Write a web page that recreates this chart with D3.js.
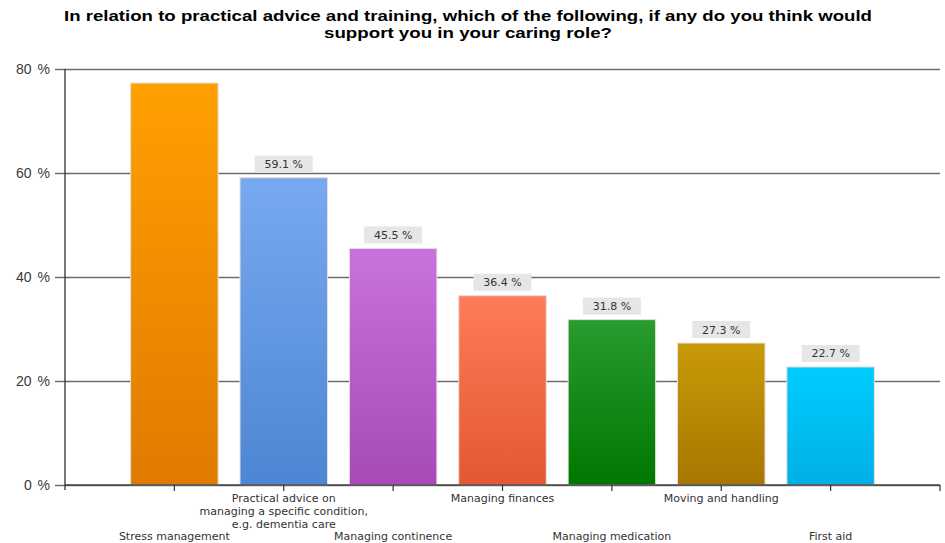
<!DOCTYPE html>
<html>
<head>
<meta charset="utf-8">
<script src="https://cdn.jsdelivr.net/npm/d3@7/dist/d3.min.js"></script>
<style>
  html, body { margin: 0; padding: 0; background: #fff; }
  svg { display: block; }
</style>
</head>
<body>
<svg id="chart" width="945" height="543"></svg>
<script>
// Survey responses: share of carers naming each kind of practical support
const categories = [
  "Stress management",
  "Practical advice on\nmanaging a specific condition,\ne.g. dementia care",
  "Managing continence",
  "Managing finances",
  "Managing medication",
  "Moving and handling",
  "First aid"
];
const values = [77.3, 59.1, 45.5, 36.4, 31.8, 27.3, 22.7];
const yTicks = [0, 20, 40, 60, 80];
const colorTop = ["#ffa000", "#78a9f0", "#c972de", "#ff7b58", "#299b2f", "#c99a08", "#00ccff"];
const colorBottom = ["#e07a00", "#4d86d3", "#a74ab6", "#e35830", "#007700", "#a87600", "#00afe5"];
const titleLines = [
  "In relation to practical advice and training, which of the following, if any do you think would",
  "support you in your caring role?"
];

const svg = d3.select("#chart");
const W = 945, H = 543;
const margin = { left: 65, right: 5, top: 69, bottom: 58 };
const x0 = margin.left, x1 = W - margin.right;
const y0 = H - margin.bottom, y1 = margin.top;

const x = d3.scaleBand()
  .domain(categories)
  .range([x0, x1])
  .paddingInner(0.2)
  .paddingOuter(0.6);

const y = d3.scaleLinear().domain([0, 80]).range([y0, y1]);

// Title: bold, slightly widened lettering
const titleFont = "'Liberation Sans', Arial, sans-serif";
const titleWidths = [808, 288];
svg.append("g").selectAll("text")
  .data(titleLines)
  .join("text")
  .attr("x", 468)
  .attr("y", (d, i) => 21 + i * 17)
  .attr("text-anchor", "middle")
  .attr("textLength", (d, i) => titleWidths[i])
  .attr("lengthAdjust", "spacingAndGlyphs")
  .style("font-family", titleFont)
  .style("font-weight", "bold")
  .style("font-size", "15.5px")
  .style("fill", "#000")
  .text(d => d);

// Gradients for bars
const defs = svg.append("defs");
categories.forEach((c, i) => {
  const g = defs.append("linearGradient")
    .attr("id", "grad" + i)
    .attr("x1", 0).attr("y1", 0).attr("x2", 0).attr("y2", 1);
  g.append("stop").attr("offset", "0%").attr("stop-color", colorTop[i]);
  g.append("stop").attr("offset", "100%").attr("stop-color", colorBottom[i]);
});

// Horizontal gridlines reaching back to the tick stubs on the left
const gy = svg.append("g")
  .attr("transform", `translate(${x1},0)`);
gy.call(d3.axisLeft(y).tickValues(yTicks).tickSize(x1 - x0 + 10).tickFormat(""));
gy.select(".domain").remove();
gy.selectAll(".tick line")
  .attr("stroke", "#6b6b6b")
  .attr("stroke-width", 1.5);

// Y-axis labels
svg.append("g").selectAll("text")
  .data(yTicks)
  .join("text")
  .attr("x", 50)
  .attr("y", d => y(d))
  .attr("dy", "0.36em")
  .attr("text-anchor", "end")
  .style("font-family", "'Liberation Sans', Arial, sans-serif")
  .style("font-size", "14px")
  .style("word-spacing", "2px")
  .style("fill", "#3a3a3a")
  .text(d => d + " %");

// Bars
svg.append("g").selectAll("rect")
  .data(values)
  .join("rect")
  .attr("x", (d, i) => x(categories[i]))
  .attr("y", d => y(d))
  .attr("width", x.bandwidth())
  .attr("height", d => y0 - y(d))
  .attr("fill", (d, i) => `url(#grad${i})`)
  .attr("stroke", "#e6e0da")
  .attr("stroke-width", 1);

// Value labels (boxed)
const labelFont = "'DejaVu Sans', Verdana, sans-serif";
const labels = svg.append("g").selectAll("g")
  .data(values.map((v, i) => ({ v, i })).filter(d => d.i > 0))
  .join("g")
  .attr("transform", d => `translate(${x(categories[d.i]) + x.bandwidth() / 2},${y(d.v) - 5})`);
labels.append("rect")
  .attr("x", -29)
  .attr("y", -17)
  .attr("width", 58)
  .attr("height", 17)
  .attr("fill", "#e6e6e6");
labels.append("text")
  .attr("x", 0)
  .attr("y", -4.5)
  .attr("text-anchor", "middle")
  .style("font-family", labelFont)
  .style("font-size", "11px")
  .style("fill", "#333")
  .text(d => d.v.toFixed(1) + " %");

// Left axis line
svg.append("line")
  .attr("x1", x0).attr("x2", x0)
  .attr("y1", y1).attr("y2", y0 + 5)
  .attr("stroke", "#222").attr("stroke-width", 1.2);

// Bottom axis line and ticks
svg.append("line")
  .attr("x1", x0).attr("x2", x1)
  .attr("y1", y0).attr("y2", y0)
  .attr("stroke", "#444").attr("stroke-width", 1.5);
const tickXs = categories.map(c => x(c) + x.bandwidth() / 2).concat([x1]);
svg.append("g").selectAll("line")
  .data(tickXs)
  .join("line")
  .attr("x1", d => d).attr("x2", d => d)
  .attr("y1", y0).attr("y2", y0 + 6)
  .attr("stroke", "#333").attr("stroke-width", 1.2);

// Category labels, staggered on two rows
const catG = svg.append("g").selectAll("text")
  .data(categories)
  .join("text")
  .attr("text-anchor", "middle")
  .attr("y", (d, i) => i % 2 === 0 ? 540 : 502)
  .style("font-family", labelFont)
  .style("font-size", "11px")
  .style("fill", "#333");
catG.each(function (d) {
  const t = d3.select(this);
  const cx = x(d) + x.bandwidth() / 2;
  d.split("\n").forEach((line, k) => {
    t.append("tspan").attr("x", cx).attr("dy", k === 0 ? 0 : 13).text(line);
  });
});
</script>
</body>
</html>
